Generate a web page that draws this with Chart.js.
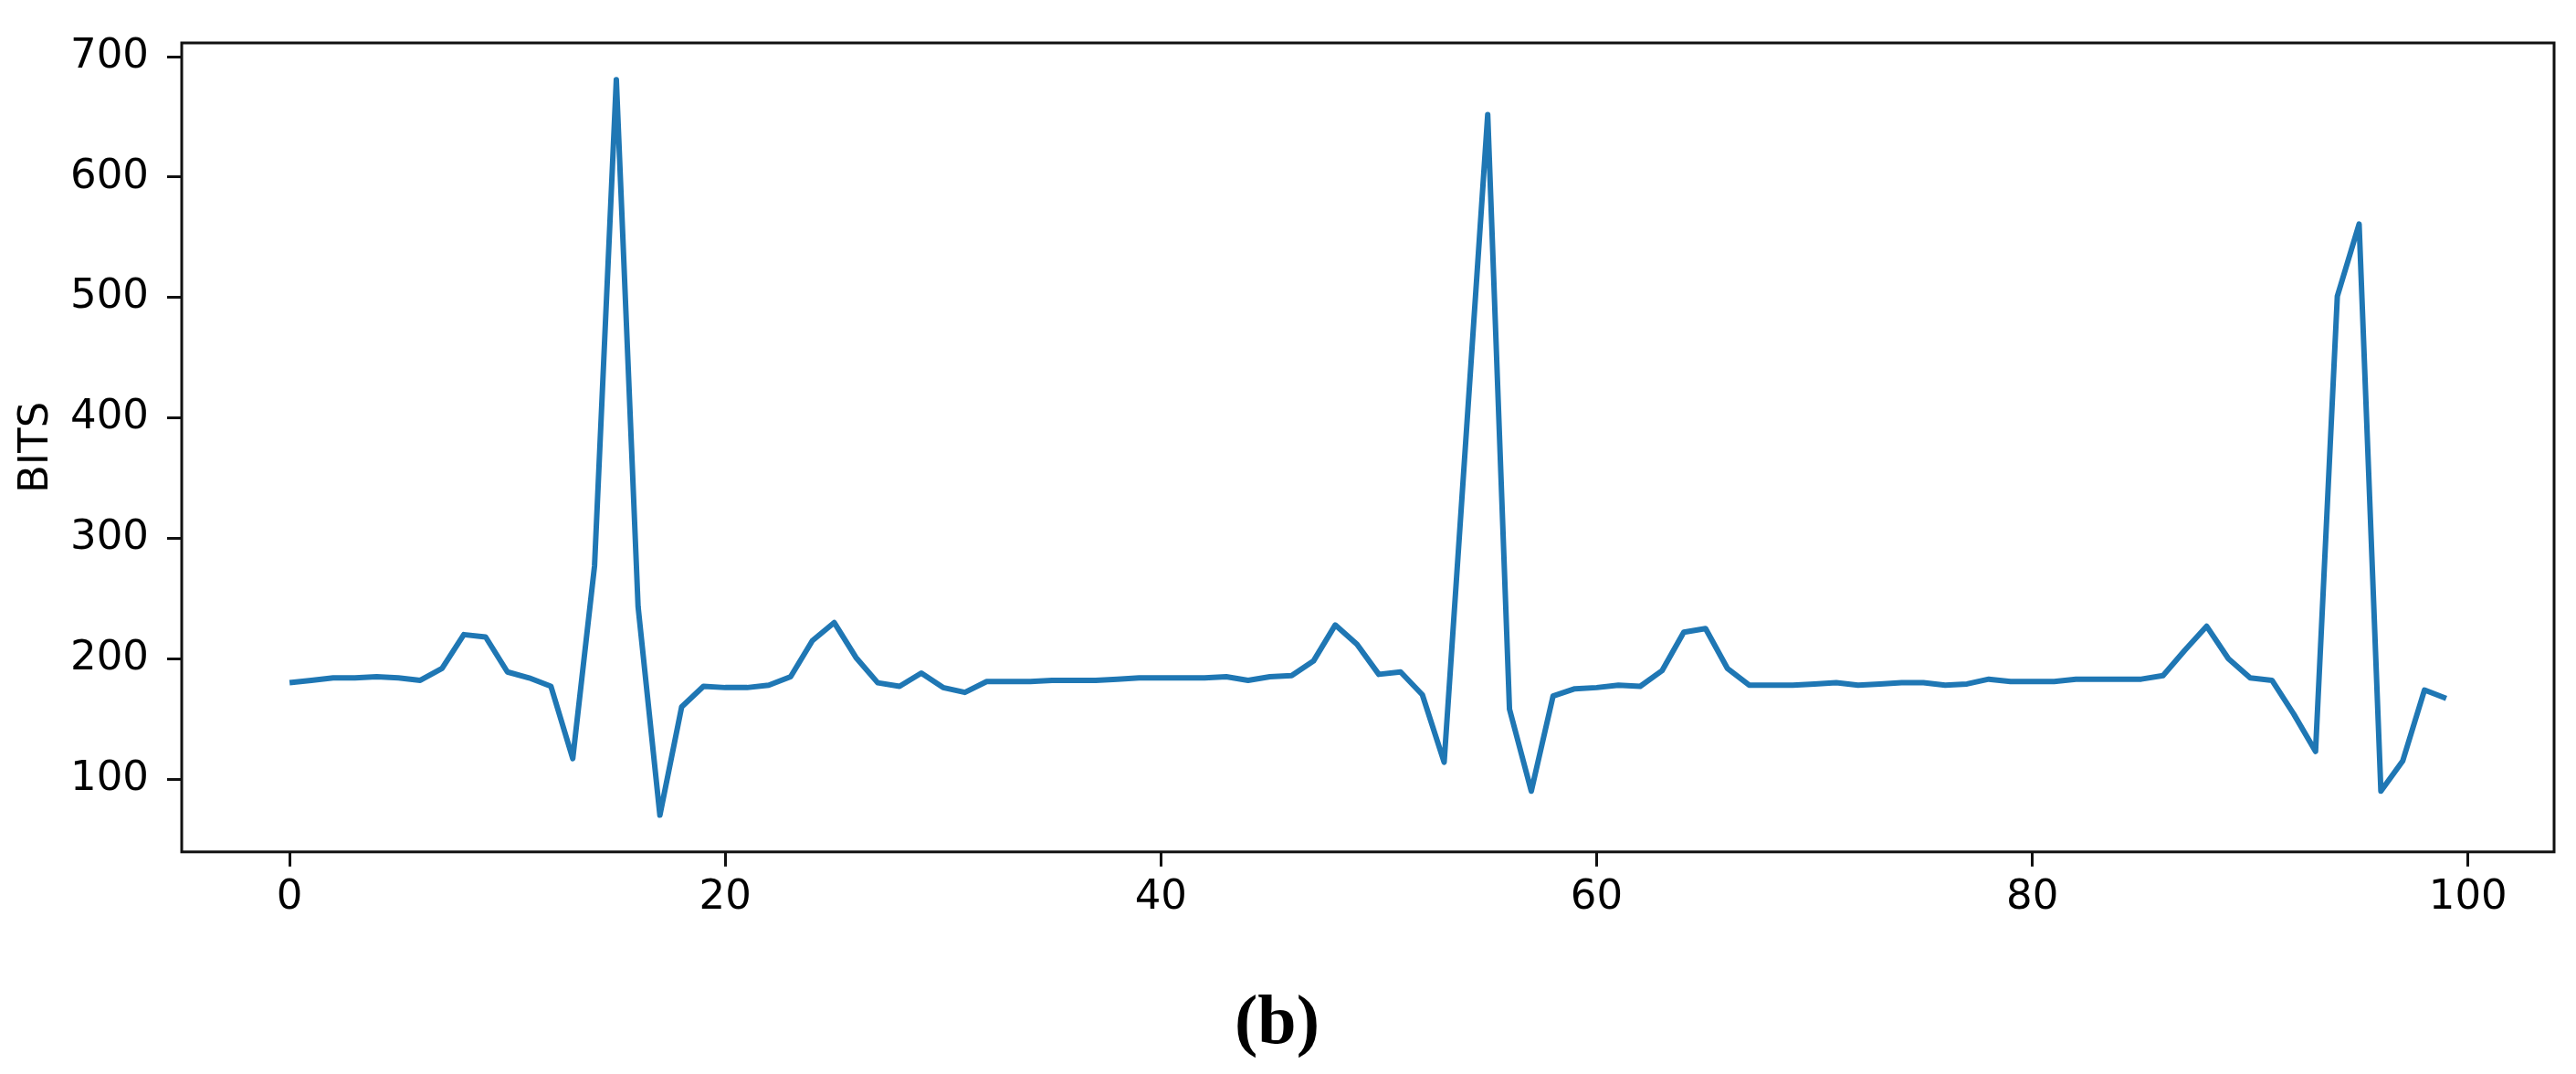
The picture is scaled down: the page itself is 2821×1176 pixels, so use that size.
<!DOCTYPE html>
<html>
<head>
<meta charset="utf-8">
<script src="https://cdn.jsdelivr.net/npm/chart.js@4.4.1/dist/chart.umd.min.js"></script>
<style>
  html, body { margin: 0; padding: 0; background: #fff; }
  #wrap { width: 2821px; height: 1176px; }
</style>
</head>
<body>
<div id="wrap"><canvas id="bitsChart" width="2821" height="1176"></canvas></div>
<script>
// values, one per sample (index 0..99)
const bits = [
  180, 182, 184, 184, 185, 184, 182, 192, 220, 218,
  189, 184, 177, 117, 277, 681, 243, 70, 160, 177,
  176, 176, 178, 185, 215, 230, 201, 180, 177, 188,
  176, 172, 181, 181, 181, 182, 182, 182, 183, 184,
  184, 184, 184, 185, 182, 185, 186, 198, 228, 212,
  187, 189, 170, 114, 383, 652, 158, 90, 169, 175,
  176, 178, 177, 190, 222, 225, 192, 178, 178, 178,
  179, 180, 178, 179, 180, 180, 178, 179, 183, 181,
  181, 181, 183, 183, 183, 183, 186, 207, 227, 200,
  184, 182, 154, 123, 501, 561, 90, 115, 174, 167
];
const xTicks = [0, 20, 40, 60, 80, 100];
const yTicks = [100, 200, 300, 400, 500, 600, 700];
const yLabel = 'BITS';
const panelLabel = '(b)';

const ink = '#000';
const tickFont = { family: 'DejaVu Sans', size: 45 };

// draw the full box around the plot area, like matplotlib spines
const frame = {
  id: 'frame',
  afterDatasetsDraw(chart) {
    const { ctx, chartArea: a } = chart;
    ctx.save();
    ctx.strokeStyle = '#111';
    ctx.lineWidth = 3;
    ctx.strokeRect(a.left, a.top, a.right - a.left, a.bottom - a.top);
    ctx.restore();
  }
};

const ctx = document.getElementById('bitsChart').getContext('2d');
new Chart(ctx, {
  type: 'line',
  data: {
    datasets: [{
      data: bits.map((v, i) => ({ x: i, y: v })),
      borderColor: '#1f77b4',
      borderWidth: 6,
      borderJoinStyle: 'round',
      pointRadius: 0,
      tension: 0,
      fill: false
    }]
  },
  options: {
    responsive: false,
    devicePixelRatio: 1,
    animation: false,
    layout: { padding: { top: 41, right: 24, left: 0, bottom: 0 } },
    plugins: {
      legend: { display: false },
      tooltip: { enabled: false },
      title: {
        display: true,
        text: panelLabel,
        position: 'bottom',
        color: '#000',
        font: { family: 'Liberation Serif', size: 76, weight: 'bold' },
        padding: { top: 24, bottom: 8 }
      }
    },
    scales: {
      x: {
        type: 'linear',
        min: -4.95,
        max: 103.95,
        afterBuildTicks: s => { s.ticks = xTicks.map(v => ({ value: v })); },
        afterFit: s => { s.height = 120; },
        grid: { drawOnChartArea: false, drawTicks: true, tickLength: 16, tickWidth: 3, tickColor: '#111' },
        border: { display: false },
        ticks: { color: ink, font: tickFont, padding: 8, maxRotation: 0 }
      },
      y: {
        type: 'linear',
        min: 39.5,
        max: 711.5,
        afterBuildTicks: s => { s.ticks = yTicks.map(v => ({ value: v })); },
        afterFit: s => { s.width = 199; },
        grid: { drawOnChartArea: false, drawTicks: true, tickLength: 16, tickWidth: 3, tickColor: '#111' },
        border: { display: false },
        ticks: { color: ink, font: tickFont, padding: 20 },
        title: {
          display: true,
          text: yLabel,
          color: ink,
          font: { family: 'DejaVu Sans', size: 45 },
          padding: { top: 13, bottom: 0 }
        }
      }
    }
  },
  plugins: [frame]
});
</script>
</body>
</html>
